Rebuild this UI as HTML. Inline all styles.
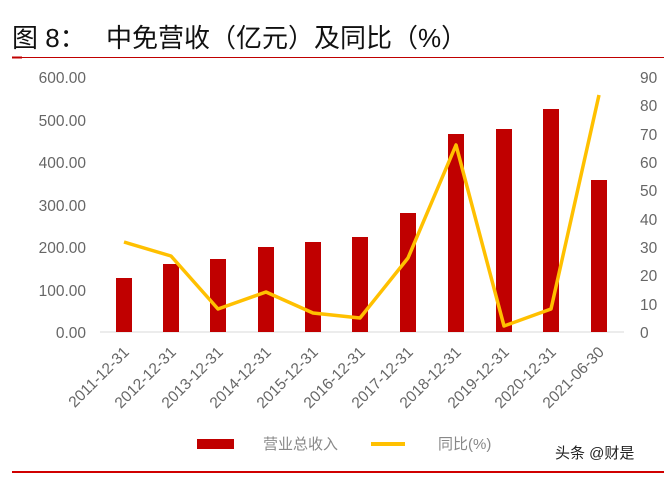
<!DOCTYPE html>
<html><head><meta charset="utf-8"><style>
body{margin:0;background:#fff;width:664px;height:477px;overflow:hidden;font-family:"Liberation Sans","Noto Sans CJK SC",sans-serif}
</style></head><body>
<svg width="664" height="477" xmlns="http://www.w3.org/2000/svg" font-family="Liberation Sans, Noto Sans CJK SC, sans-serif">
<text x="12" y="47" font-size="26" fill="#111">图 8：</text>
<text x="106" y="47" font-size="26" fill="#111">中免营收（亿元）及同比（%）</text>
<line x1="12" y1="57.5" x2="664" y2="57.5" stroke="#c00000" stroke-width="1"/>
<line x1="12" y1="57.5" x2="22" y2="57.5" stroke="#c00000" stroke-width="2"/>
<g font-size="15.5" fill="#666" text-anchor="end">
<text x="86" y="83">600.00</text><text x="86" y="126">500.00</text><text x="86" y="168">400.00</text>
<text x="86" y="211">300.00</text><text x="86" y="253">200.00</text><text x="86" y="296">100.00</text><text x="86" y="338">0.00</text>
</g>
<g font-size="15.5" fill="#666" text-anchor="start">
<text x="640" y="83">90</text><text x="640" y="111">80</text><text x="640" y="140">70</text><text x="640" y="168">60</text>
<text x="640" y="196">50</text><text x="640" y="225">40</text><text x="640" y="253">30</text><text x="640" y="281">20</text>
<text x="640" y="310">10</text><text x="640" y="338">0</text>
</g>
<line x1="100" y1="332" x2="624" y2="332" stroke="#d9d9d9" stroke-width="1"/>
<g fill="#c00000">
<rect x="116" y="278" width="16" height="54"/><rect x="163" y="264" width="16" height="68"/>
<rect x="210" y="259" width="16" height="73"/><rect x="258" y="247" width="16" height="85"/>
<rect x="305" y="242" width="16" height="90"/><rect x="352" y="237" width="16" height="95"/>
<rect x="400" y="213" width="16" height="119"/><rect x="448" y="134" width="16" height="198"/>
<rect x="496" y="129" width="16" height="203"/><rect x="543" y="109" width="16" height="223"/>
<rect x="591" y="180" width="16" height="152"/>
</g>
<polyline fill="none" stroke="#ffc000" stroke-width="3.5" stroke-linejoin="round" points="124,242 171,256 218,309 266,292 313,313 360,318 408,258 456,145 504,326 551,309 599,95"/>
<g font-size="15.5" fill="#666" text-anchor="end">
<text transform="translate(130,353) rotate(-45)">2011-12-31</text>
<text transform="translate(177,353) rotate(-45)">2012-12-31</text>
<text transform="translate(224,353) rotate(-45)">2013-12-31</text>
<text transform="translate(272,353) rotate(-45)">2014-12-31</text>
<text transform="translate(319,353) rotate(-45)">2015-12-31</text>
<text transform="translate(366,353) rotate(-45)">2016-12-31</text>
<text transform="translate(414,353) rotate(-45)">2017-12-31</text>
<text transform="translate(462,353) rotate(-45)">2018-12-31</text>
<text transform="translate(510,353) rotate(-45)">2019-12-31</text>
<text transform="translate(557,353) rotate(-45)">2020-12-31</text>
<text transform="translate(605,353) rotate(-45)">2021-06-30</text>
</g>
<rect x="197" y="439" width="37" height="10" fill="#c00000"/>
<text x="263" y="449" font-size="15" fill="#888">营业总收入</text>
<line x1="371" y1="444" x2="405" y2="444" stroke="#ffc000" stroke-width="4"/>
<text x="438" y="449" font-size="15" fill="#888">同比(%)</text>
<text x="555" y="458" font-size="15" fill="#222">头条 @财是</text>
<line x1="12" y1="472" x2="664" y2="472" stroke="#d00000" stroke-width="2"/>
</svg>
</body></html>
